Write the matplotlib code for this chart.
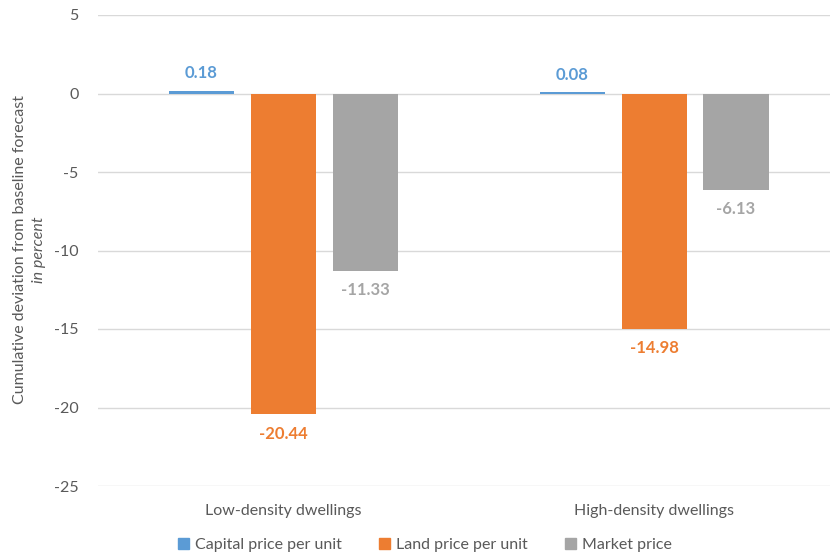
import numpy as np
import matplotlib
matplotlib.use("Agg")
import matplotlib.pyplot as plt
from matplotlib.patches import Patch

categories = ["Low-density dwellings", "High-density dwellings"]
series_names = ["Capital price per unit", "Land price per unit", "Market price"]
capital = [0.18, 0.08]
land = [-20.44, -14.98]
market = [-11.33, -6.13]
colors = ["#5B9BD5", "#ED7D31", "#A5A5A5"]

plt.rcParams["font.family"] = ["Lato", "DejaVu Sans"]
plt.rcParams["axes.unicode_minus"] = False

fig = plt.figure(figsize=(8.30, 5.58), dpi=100)
ax = fig.add_axes([98 / 830, 1 - 486 / 558, 1 - 98 / 830, (486 - 15) / 558])

x = np.arange(len(categories))
width = 0.1755
step = 0.2213
values = [capital, land, market]

for i, (vals, col) in enumerate(zip(values, colors)):
    pos = x + (i - 1) * step
    bars = ax.bar(pos, vals, width=width, color=col, zorder=2)
    for b, v in zip(bars, vals):
        if v >= 0:
            ax.annotate(f"{v:.2f}", (b.get_x() + b.get_width() / 2, v),
                        xytext=(0, 7), textcoords="offset points",
                        ha="center", va="bottom", color=col,
                        fontsize=12, fontweight="bold")
        else:
            ax.annotate(f"{v:.2f}", (b.get_x() + b.get_width() / 2, v),
                        xytext=(0, -8), textcoords="offset points",
                        ha="center", va="top", color=col,
                        fontsize=12, fontweight="bold")

ax.set_ylim(-25, 5)
ax.set_xlim(-0.5007, 1.475)
ax.set_yticks(np.arange(-25, 6, 5))
ax.set_xticks(x)
ax.set_xticklabels(categories)
ax.yaxis.grid(True, color="#D9D9D9", linewidth=1, zorder=0)
ax.set_axisbelow(True)
for s in ax.spines.values():
    s.set_visible(False)
ax.tick_params(axis="both", length=0, colors="#595959", labelsize=11.5)
ax.tick_params(axis="y", pad=14)
ax.tick_params(axis="x", pad=13)

# two-line axis title, second line italic
fig.text(20 / 830, 1 - 250 / 558, "Cumulative deviation from baseline forecast",
         rotation=90, ha="center", va="center", color="#595959", fontsize=11.5)
fig.text(39 / 830, 1 - 250 / 558, "in percent", rotation=90, ha="center",
         va="center", color="#595959", fontsize=11.5, style="italic")

handles = [Patch(color=c) for c in colors]
fig.legend(handles, series_names, loc="center", bbox_to_anchor=(425 / 830, 1 - 545 / 558),
           ncol=3, frameon=False, fontsize=11.5, handlelength=0.7, handleheight=0.7,
           handletextpad=0.4, columnspacing=2.3, labelcolor="#595959")

fig.savefig("out.png", dpi=100)
